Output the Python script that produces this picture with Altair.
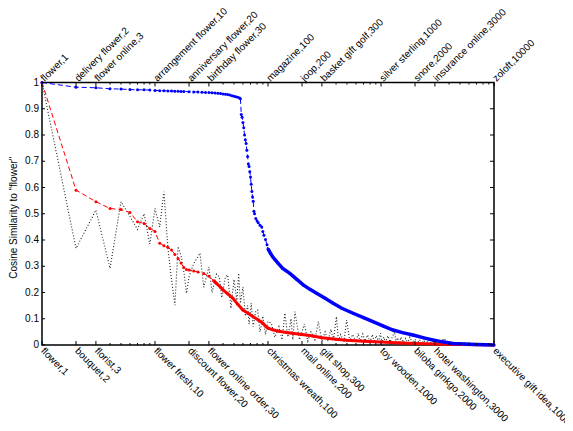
import altair as alt
import pandas as pd

# ---------------- data ----------------
blue_rank = [1, 2, 3, 4, 5, 6, 7, 8, 9, 10, 11, 12, 13, 14, 15, 16, 17, 18,
             20, 22, 24, 26, 28, 30, 32, 34, 36, 38, 40, 42, 44, 46, 48, 50,
             52, 54, 56, 57, 58, 59, 60, 61, 62, 63, 64, 65, 66, 67, 68, 69,
             70, 71, 72, 73, 74, 75, 76, 78, 80, 82, 85, 88, 90, 92, 95, 98,
             100, 105, 110, 115, 123, 135, 156, 180, 205, 235, 269, 320, 377,
             450, 566, 700, 849, 1050, 1277, 1550, 1919, 2400, 2879, 3500,
             4325, 5500, 7000, 8500, 10000]
blue_sim = [1.000, 0.982, 0.980, 0.976, 0.975, 0.973, 0.972, 0.972, 0.971,
            0.970, 0.969, 0.969, 0.968, 0.968, 0.967, 0.967, 0.966, 0.966,
            0.965, 0.964, 0.964, 0.963, 0.962, 0.962, 0.961, 0.960, 0.959,
            0.958, 0.956, 0.955, 0.954, 0.952, 0.950, 0.948, 0.946, 0.944,
            0.941, 0.938, 0.878, 0.868, 0.848, 0.828, 0.800, 0.782, 0.768,
            0.742, 0.718, 0.690, 0.680, 0.660, 0.640, 0.612, 0.585, 0.564,
            0.548, 0.510, 0.500, 0.482, 0.472, 0.466, 0.456, 0.450, 0.432,
            0.418, 0.402, 0.382, 0.366, 0.350, 0.336, 0.326, 0.311, 0.292,
            0.273, 0.250, 0.229, 0.212, 0.197, 0.178, 0.159, 0.140, 0.121,
            0.104, 0.089, 0.072, 0.057, 0.047, 0.038, 0.027, 0.019, 0.012,
            0.006, 0.004, 0.002, 0.001, 0.000]

red_rank = [1, 2, 3, 4, 5, 6, 7, 8, 9, 10, 11, 12, 13, 14, 15, 16, 17, 18,
            19, 20, 22, 24, 27, 30, 33, 35, 38, 40, 44, 49, 54, 60, 67, 74,
            82, 90, 95, 100, 110, 125, 150, 200, 250, 300, 400, 500, 700,
            1000, 1500, 2000, 3000, 5000, 10000]
red_sim = [1.000, 0.590, 0.546, 0.520, 0.516, 0.505, 0.470, 0.463, 0.444,
           0.432, 0.388, 0.378, 0.372, 0.362, 0.345, 0.330, 0.312, 0.295,
           0.288, 0.286, 0.282, 0.278, 0.272, 0.262, 0.245, 0.235, 0.220,
           0.210, 0.195, 0.178, 0.155, 0.133, 0.120, 0.108, 0.095, 0.083,
           0.072, 0.064, 0.058, 0.052, 0.047, 0.040, 0.034, 0.028, 0.022,
           0.018, 0.014, 0.011, 0.008, 0.006, 0.004, 0.002, 0.000]

black_rank = [
    1, 2, 3, 4, 5, 6, 7, 8, 9, 10,
    11, 12, 13, 14, 15, 16, 17, 18, 19, 20,
    22, 25, 27, 30, 32, 35, 37, 39, 42, 44,
    47, 50, 53, 55, 57, 60, 63, 66, 68, 71,
    74, 78, 81, 85, 90, 95, 100, 107, 115, 125,
    133, 141, 150, 160, 166, 173, 190, 210, 225, 240,
    260, 279, 300, 320, 340, 360, 380, 403, 420, 440,
    470, 496, 530, 560, 600, 630, 650, 690, 720, 760,
    800, 840, 870, 910, 950, 990, 1020, 1060, 1100, 1150,
    1200, 1260, 1315, 1360, 1400, 1450, 1500, 1570, 1650, 1720,
    1800, 1900, 2000, 2100, 2200, 2300, 2400, 2500, 2600, 2800,
    3000, 3300, 3600, 4000, 4500, 5200, 6000, 7000, 8000, 10000]
black_sim = [
    1.000, 0.368, 0.514, 0.292, 0.546, 0.490, 0.440, 0.500, 0.385, 0.520,
    0.450, 0.584, 0.370, 0.250, 0.152, 0.375, 0.340, 0.280, 0.197, 0.260,
    0.310, 0.350, 0.220, 0.298, 0.200, 0.270, 0.260, 0.180, 0.260, 0.267,
    0.140, 0.250, 0.170, 0.273, 0.159, 0.220, 0.110, 0.150, 0.080, 0.159,
    0.070, 0.130, 0.133, 0.050, 0.110, 0.040, 0.090, 0.083, 0.030, 0.070,
    0.020, 0.121, 0.030, 0.100, 0.020, 0.127, 0.020, 0.080, 0.015, 0.050,
    0.020, 0.089, 0.015, 0.050, 0.015, 0.060, 0.020, 0.108, 0.015, 0.040,
    0.012, 0.095, 0.015, 0.040, 0.012, 0.045, 0.012, 0.042, 0.015, 0.038,
    0.012, 0.040, 0.010, 0.036, 0.012, 0.045, 0.008, 0.030, 0.010, 0.035,
    0.012, 0.030, 0.051, 0.010, 0.028, 0.006, 0.030, 0.010, 0.025, 0.006,
    0.030, 0.008, 0.022, 0.006, 0.020, 0.005, 0.018, 0.004, 0.020, 0.006,
    0.010, 0.004, 0.025, 0.004, 0.010, 0.003, 0.008, 0.002, 0.004, 0.000]
assert len(black_rank) == len(black_sim)
assert len(blue_rank) == len(blue_sim)
assert len(red_rank) == len(red_sim)

major_ticks = [1, 2, 3, 10, 20, 30, 100, 200, 300, 1000, 2000, 3000, 10000]
minor_ticks = [4, 5, 6, 7, 8, 9, 40, 50, 60, 70, 80, 90, 400, 500, 600, 700,
               800, 900, 4000, 5000, 6000, 7000, 8000, 9000]
bottom_words = ["flower", "bouquet", "florist", "flower fresh", "discount flower",
                "flower online order", "christmas wreath", "mail online",
                "gift shop", "toy wooden", "biloba ginkgo", "hotel washington",
                "executive gift idea"]
top_words = ["flower", "delivery flower", "flower online", "arrangement flower",
             "anniversary flower", "birthday flower", "magazine", "joop",
             "basket gift golf", "silver sterling", "snore", "insurance online",
             "zoloft"]
y_ticks = [0, 0.1, 0.2, 0.3, 0.4, 0.5, 0.6, 0.7, 0.8, 0.9, 1.0]
y_tick_labels = ["0", "0.1", "0.2", "0.3", "0.4", "0.5", "0.6", "0.7", "0.8",
                 "0.9", "1"]
y_title = 'Cosine Similarity to "flower"'

# ---------------- layout ----------------
W, H = 452, 262.5
FONT = "Liberation Sans"

blue_df = pd.DataFrame({"rank": blue_rank, "sim": blue_sim})
red_df = pd.DataFrame({"rank": red_rank, "sim": red_sim})
black_df = pd.DataFrame({"rank": black_rank, "sim": black_sim})
major_df = pd.DataFrame({"rank": major_ticks})
minor_df = pd.DataFrame({"rank": minor_ticks})
ytick_df = pd.DataFrame({"sim": y_ticks, "label": y_tick_labels})
ytitle_df = pd.DataFrame({"t": [y_title]})


def label_expr(words, values):
    parts = [f"datum.value == {v} ? '{w},{v}'" for w, v in zip(words, values)]
    return " : ".join(parts) + " : ''"


xscale = alt.Scale(type="log", domain=[1, 10000], nice=False)
yscale = alt.Scale(domain=[0, 1], nice=False, zero=False)


def X(axis=None):
    return alt.X("rank:Q", scale=xscale, axis=axis)


def Y(axis=None):
    return alt.Y("sim:Q", scale=yscale, axis=axis)


bottom_axis = alt.Axis(orient="bottom", values=major_ticks,
                       labelExpr=label_expr(bottom_words, major_ticks),
                       labelAngle=45, labelAlign="left", labelBaseline="middle",
                       labelPadding=4, ticks=False, domain=False,
                       grid=False, labelOverlap=False, labelBound=False,
                       labelFlush=False, labelFontSize=10, labelFont=FONT,
                       labelColor="black", title=None)
top_axis = alt.Axis(orient="top", values=major_ticks,
                    labelExpr=label_expr(top_words, major_ticks),
                    labelAngle=315, labelAlign="left", labelBaseline="middle",
                    labelPadding=3, ticks=False, domain=False,
                    grid=False, labelOverlap=False, labelBound=False,
                    labelFlush=False, labelFontSize=10, labelFont=FONT,
                    labelColor="black", title=None)

# y tick labels and y title as text
ylabels = alt.Chart(ytick_df).mark_text(
    align="right", baseline="middle", font=FONT, fontSize=10, color="black",
    dx=-3
).encode(y=Y(), x=alt.value(0), text="label:N")
ytitle = alt.Chart(ytitle_df).mark_text(
    angle=270, align="center", baseline="middle", font=FONT, fontSize=10,
    color="black"
).encode(x=alt.value(-28), y=alt.value(H / 2 + 4), text="t:N")

# black dotted series
black_line = alt.Chart(black_df).mark_line(
    color="#222222", strokeWidth=1.1, strokeDash=[1, 2]
).encode(x=X(), y=Y())

# red dashed series
red_line = alt.Chart(red_df).mark_line(
    color="#ff0000", strokeWidth=1, strokeDash=[5, 3]
).encode(x=X(top_axis), y=Y())
red_thick = alt.Chart(red_df).transform_filter("datum.rank >= 33").mark_line(
    color="#ff0000", strokeWidth=3
).encode(x=X(), y=Y())
red_pts = alt.Chart(red_df).mark_point(
    color="#ff0000", filled=True, size=9, opacity=1
).encode(x=X(), y=Y())

# blue dashed series
blue_line = alt.Chart(blue_df).mark_line(
    color="#0000ff", strokeWidth=1, strokeDash=[5, 3]
).encode(x=X(bottom_axis), y=Y())
blue_thick = alt.Chart(blue_df).transform_filter("datum.rank >= 100").mark_line(
    color="#0000ff", strokeWidth=3.5
).encode(x=X(), y=Y())
blue_pts = alt.Chart(blue_df).mark_point(
    color="#0000ff", filled=True, size=9, opacity=1
).encode(x=X(), y=Y())

# inward tick marks
tick_layers = [
    alt.Chart(ytick_df).mark_rule(color="black", strokeWidth=1).encode(
        y=Y(), x=alt.value(0), x2=alt.value(3)),
    alt.Chart(ytick_df).mark_rule(color="black", strokeWidth=1).encode(
        y=Y(), x=alt.value(W), x2=alt.value(W - 4)),
    alt.Chart(major_df).mark_rule(color="black", strokeWidth=1).encode(
        x=X(), y=alt.value(H), y2=alt.value(H - 4)),
    alt.Chart(major_df).mark_rule(color="black", strokeWidth=1).encode(
        x=X(), y=alt.value(0), y2=alt.value(4)),
    alt.Chart(minor_df).mark_rule(color="black", strokeWidth=1).encode(
        x=X(), y=alt.value(H), y2=alt.value(H - 2)),
    alt.Chart(minor_df).mark_rule(color="black", strokeWidth=1).encode(
        x=X(), y=alt.value(0), y2=alt.value(2)),
]

chart = alt.layer(
    black_line, red_line, red_thick, red_pts, blue_line, blue_thick, blue_pts,
    ylabels, ytitle, *tick_layers
).properties(
    width=W, height=H,
    autosize=alt.AutoSizeParams(type="none"),
    padding={"left": 34, "top": 74.5, "right": 71, "bottom": 78},
    background="white",
).configure_view(
    stroke="black", strokeWidth=1.5
)

chart.save("out.html", embed_options={"renderer": "svg", "actions": False})
